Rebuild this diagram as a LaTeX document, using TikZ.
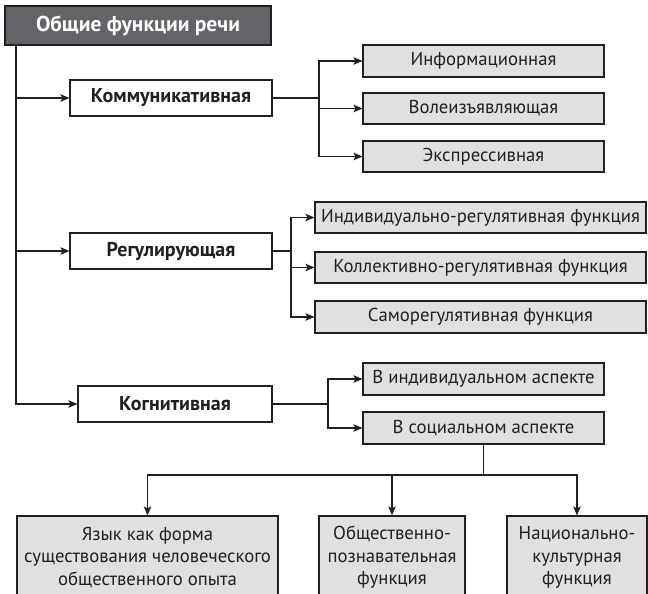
\documentclass[tikz,border=0pt]{standalone}
\usepackage{fontspec}
\setmainfont{PT Sans}
\usetikzlibrary{arrows.meta,calc}
\definecolor{ink}{RGB}{35,31,32}
\definecolor{titlefill}{RGB}{100,100,104}
\definecolor{boxfill}{RGB}{224,224,224}
\begin{document}
\begin{tikzpicture}[x=1pt,y=-1pt,
  line width=1.2pt, draw=ink, text=ink,
  every node/.style={font=\fontsize{18.7}{22.5}\selectfont, inner sep=0pt, line width=1.1pt},
  titlebox/.style={draw=ink, fill=titlefill, text=white, font=\fontsize{21.5}{24}\selectfont\bfseries},
  mainbox/.style={draw=ink, fill=white, font=\fontsize{20}{24}\selectfont\bfseries},
  subbox/.style={draw=ink, fill=boxfill},
  bottombox/.style={draw=ink, fill=boxfill, align=center},
  arr/.style={-{Stealth[length=9pt,width=7.5pt,inset=2pt]}, draw=ink, line width=1.2pt},
  ln/.style={draw=ink, line width=1.2pt}]
\clip (0,0) rectangle (648,594);
\fill[white] (0,0) rectangle (648,594);

% title
\node[titlebox, minimum width=266pt, minimum height=39pt] (title) at (138,25.5) {Общие функции речи};

% main nodes
\node[mainbox, minimum width=202pt, minimum height=36pt] (komm) at (171,98) {Коммуникативная};
\node[mainbox, minimum width=202pt, minimum height=36pt] (reg) at (171,251) {Регулирующая};
\node[mainbox, minimum width=194pt, minimum height=36pt] (kogn) at (175,404) {Когнитивная};

% communicative subs
\node[subbox, minimum width=241pt, minimum height=32pt] (info) at (483.5,61) {Информационная};
\node[subbox, minimum width=241pt, minimum height=31pt] (vol) at (483.5,108.5) {Волеизъявляющая};
\node[subbox, minimum width=241pt, minimum height=31pt] (expr) at (483.5,156.5) {Экспрессивная};

% regulating subs
\node[subbox, minimum width=331pt, minimum height=31pt] (ind) at (480.5,217.5) {Индивидуально-регулятивная функция};
\node[subbox, minimum width=331pt, minimum height=31pt] (koll) at (480.5,267.5) {Коллективно-регулятивная функция};
\node[subbox, minimum width=331pt, minimum height=32pt] (samo) at (480.5,317) {Саморегулятивная функция};

% cognitive subs
\node[subbox, minimum width=241pt, minimum height=32pt] (vind) at (483.5,379) {В индивидуальном аспекте};
\node[subbox, minimum width=241pt, minimum height=32pt] (vsoc) at (483.5,428) {В социальном аспекте};

% bottom boxes
\node[bottombox, minimum width=261pt, minimum height=83pt] (yazyk) at (147.5,557.5) {Язык как форма\\существования человеческого\\общественного опыта};
\node[bottombox, minimum width=146pt, minimum height=83pt] (obsh) at (392,557.5) {Общественно-\\познавательная\\функция};
\node[bottombox, minimum width=140pt, minimum height=83pt] (nac) at (577,557.5) {Национально-\\культурная\\функция};

% trunk
\coordinate (t) at (title.south -| 16,0);
\draw[arr] (t) |- (kogn.west);
\draw[arr] (t |- komm.west) -- (komm.west);
\draw[arr] (t |- reg.west) -- (reg.west);

% communicative branch
\coordinate (j1) at (319,98);
\draw[ln] (komm.east) -- (j1);
\draw[arr] (j1) |- (info.west);
\draw[arr] (j1) |- (vol.west);
\draw[arr] (j1) |- (expr.west);

% regulating branch
\coordinate (j2) at (291,251);
\draw[ln] (reg.east) -- (j2);
\draw[arr] (j2) |- (ind.west);
\draw[arr] (j2) |- (koll.west);
\draw[arr] (j2) |- (samo.west);

% cognitive branch
\coordinate (j3) at (328,404);
\draw[ln] (kogn.east) -- (j3);
\draw[arr] (j3) |- (vind.west);
\draw[arr] (j3) |- (vsoc.west);

% bus to bottom
\coordinate (bus) at (483.5,475);
\draw[ln] (vsoc.south) -- (bus);
\draw[arr] (bus) -| (yazyk.north);
\draw[arr] (bus) -| (nac.north);
\draw[arr] (obsh.north |- bus) -- (obsh.north);
\end{tikzpicture}
\end{document}
